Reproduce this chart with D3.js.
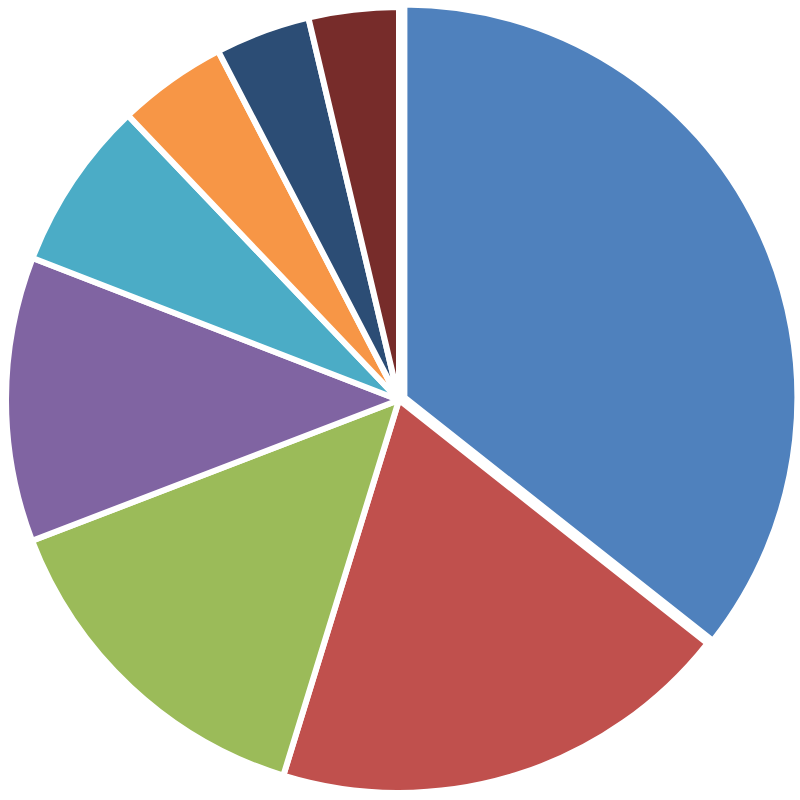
<!DOCTYPE html>
<html>
<head>
<meta charset="utf-8">
<script src="https://cdn.jsdelivr.net/npm/d3@7"></script>
<style>
  body { margin: 0; background: #fff; }
</style>
</head>
<body>
<div id="the_chart"></div>
<script>
var categories = ["A", "B", "C", "D", "E", "F", "G", "H"];
var values = [35.6, 19.1, 14.4, 11.7, 7.0, 4.5, 3.9, 3.7];
var colors = ["#4F81BD", "#C0504D", "#9BBB59", "#8064A2", "#4BACC6", "#F79646", "#2C4D75", "#772C2A"];
var exploded = [6, 0, 0, 0, 0, 0, 0, 0];

var w = 800, h = 800;
var radius = 393;

var svg = d3.select("#the_chart")
            .append("svg")
            .attr("width", w)
            .attr("height", h);

var g = svg.append("g").attr("transform", "translate(399,400)");

var pie = d3.pie().sort(null).value(function(d){ return d; });
var arc = d3.arc().innerRadius(0).outerRadius(radius);

var arcs = pie(values);

g.selectAll("path")
  .data(arcs)
  .enter().append("path")
  .attr("d", arc)
  .attr("fill", function(d, i){ return colors[i]; })
  .attr("stroke", "#fff")
  .attr("stroke-width", 6)
  .attr("stroke-linejoin", "round")
  .attr("transform", function(d, i){
      var mid = (d.startAngle + d.endAngle) / 2;
      var off = exploded[i];
      return "translate(" + (Math.sin(mid) * off) + "," + (-Math.cos(mid) * off) + ")";
  })
  .append("title")
  .text(function(d, i){ return categories[i]; });
</script>
</body>
</html>
